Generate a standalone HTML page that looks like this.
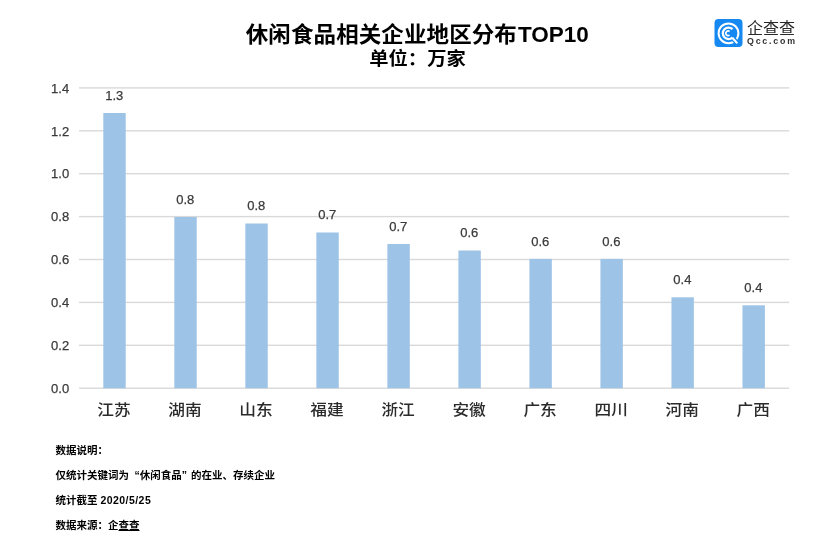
<!DOCTYPE html>
<html lang="zh-CN">
<head>
<meta charset="utf-8">
<title>休闲食品相关企业地区分布TOP10</title>
<style>
html,body{margin:0;padding:0;background:#fff;}
body{width:840px;height:556px;position:relative;overflow:hidden;font-family:"Liberation Sans","Noto Sans CJK SC",sans-serif;}
.title{position:absolute;left:0;width:834.6px;top:18.9px;text-align:center;font-weight:bold;font-size:22.5px;line-height:32px;color:#000;white-space:nowrap;}
.title .cj{display:inline-block;transform:scaleY(0.945);transform-origin:50% 50%;letter-spacing:0.1px;}
.title .en{display:inline-block;padding-left:1px;}
.sub{position:absolute;left:0;width:835px;top:44.6px;text-align:center;font-weight:bold;font-size:19.3px;line-height:28px;color:#000;white-space:nowrap;transform:scaleY(0.93);transform-origin:50% 50%;}
.note{position:absolute;left:55.5px;font-size:10.5px;line-height:14px;color:#000;white-space:nowrap;font-weight:bold;}
.note u{text-decoration:underline;text-decoration-thickness:0.9px;text-underline-offset:0.6px;}
.note .ql{padding-left:5.4px;}
.note .qr{padding-right:4px;}
.note .d{letter-spacing:0.45px;}
</style>
</head>
<body>
<svg width="840" height="556" viewBox="0 0 840 556" style="position:absolute;left:0;top:0">
<rect x="79.0" y="387.50" width="710.2" height="1.4" fill="#d9d9d9"/>
<rect x="79.0" y="344.60" width="710.2" height="1.4" fill="#d9d9d9"/>
<rect x="79.0" y="301.70" width="710.2" height="1.4" fill="#d9d9d9"/>
<rect x="79.0" y="258.80" width="710.2" height="1.4" fill="#d9d9d9"/>
<rect x="79.0" y="215.90" width="710.2" height="1.4" fill="#d9d9d9"/>
<rect x="79.0" y="173.00" width="710.2" height="1.4" fill="#d9d9d9"/>
<rect x="79.0" y="130.10" width="710.2" height="1.4" fill="#d9d9d9"/>
<rect x="79.0" y="87.20" width="710.2" height="1.4" fill="#d9d9d9"/>
<rect x="103.30" y="113" width="22.4" height="275.20" fill="#9dc3e6"/>
<rect x="174.32" y="217" width="22.4" height="171.20" fill="#9dc3e6"/>
<rect x="245.34" y="223.5" width="22.4" height="164.70" fill="#9dc3e6"/>
<rect x="316.36" y="232.5" width="22.4" height="155.70" fill="#9dc3e6"/>
<rect x="387.38" y="244" width="22.4" height="144.20" fill="#9dc3e6"/>
<rect x="458.40" y="250.5" width="22.4" height="137.70" fill="#9dc3e6"/>
<rect x="529.42" y="258.9" width="22.4" height="129.30" fill="#9dc3e6"/>
<rect x="600.44" y="258.9" width="22.4" height="129.30" fill="#9dc3e6"/>
<rect x="671.46" y="297.3" width="22.4" height="90.90" fill="#9dc3e6"/>
<rect x="742.48" y="305.3" width="22.4" height="82.90" fill="#9dc3e6"/>
<g font-family="'Liberation Sans', 'Noto Sans CJK SC', sans-serif" font-size="13" fill="#3a3a3a" stroke="#3a3a3a" stroke-width="0.25">
<text x="69.2" y="392.90" text-anchor="end">0.0</text>
<text x="69.2" y="350.00" text-anchor="end">0.2</text>
<text x="69.2" y="307.10" text-anchor="end">0.4</text>
<text x="69.2" y="264.20" text-anchor="end">0.6</text>
<text x="69.2" y="221.30" text-anchor="end">0.8</text>
<text x="69.2" y="178.40" text-anchor="end">1.0</text>
<text x="69.2" y="135.50" text-anchor="end">1.2</text>
<text x="69.2" y="92.60" text-anchor="end">1.4</text>
<text x="114.20" y="99.70" text-anchor="middle">1.3</text>
<text x="185.22" y="203.70" text-anchor="middle">0.8</text>
<text x="256.24" y="210.20" text-anchor="middle">0.8</text>
<text x="327.26" y="219.20" text-anchor="middle">0.7</text>
<text x="398.28" y="230.70" text-anchor="middle">0.7</text>
<text x="469.30" y="237.20" text-anchor="middle">0.6</text>
<text x="540.32" y="245.60" text-anchor="middle">0.6</text>
<text x="611.34" y="245.60" text-anchor="middle">0.6</text>
<text x="682.36" y="284.00" text-anchor="middle">0.4</text>
<text x="753.38" y="292.00" text-anchor="middle">0.4</text>
</g>
<g font-family="'Liberation Sans', 'Noto Sans CJK SC', sans-serif" font-size="16.7" font-weight="500" fill="#2b2b2b" text-anchor="middle">
<text transform="translate(114.00 415) scale(1 0.9)">江苏</text>
<text transform="translate(185.02 415) scale(1 0.9)">湖南</text>
<text transform="translate(256.04 415) scale(1 0.9)">山东</text>
<text transform="translate(327.06 415) scale(1 0.9)">福建</text>
<text transform="translate(398.08 415) scale(1 0.9)">浙江</text>
<text transform="translate(469.10 415) scale(1 0.9)">安徽</text>
<text transform="translate(540.12 415) scale(1 0.9)">广东</text>
<text transform="translate(611.14 415) scale(1 0.9)">四川</text>
<text transform="translate(682.16 415) scale(1 0.9)">河南</text>
<text transform="translate(753.18 415) scale(1 0.9)">广西</text>
</g>
<g>
<rect x="714.5" y="19" width="28" height="28" rx="4" fill="#1688f2"/>
<circle cx="728.5" cy="33.3" r="9.9" fill="none" stroke="#fff" stroke-width="2"/>
<path d="M732.2 37.6 L738.6 44.8" stroke="#1688f2" stroke-width="4.6" fill="none"/>
<path d="M732.5 29.1 A5.75 5.75 0 1 0 732.5 37.5" fill="none" stroke="#fff" stroke-width="2.3"/>
<path d="M732.3 37.7 L737.3 43.4" stroke="#fff" stroke-width="2.1" fill="none"/>
<path d="M729.6 31.5 A2.3 2.3 0 1 0 729.6 35.1" fill="none" stroke="#fff" stroke-width="1.6"/>
</g>
<text x="747" y="34" font-family="'Liberation Sans', 'Noto Sans CJK SC', sans-serif" font-size="16" font-weight="400" fill="#2a2a2a" textLength="48" lengthAdjust="spacingAndGlyphs">企查查</text>
<text x="747" y="44.3" font-family="'Liberation Sans', 'Noto Sans CJK SC', sans-serif" font-size="8.8" font-weight="bold" fill="#333" textLength="48" lengthAdjust="spacing">Qcc.com</text>
</svg>
<div class="title"><span class="cj">休闲食品相关企业地区分布</span><span class="en">TOP10</span></div>
<div class="sub">单位：万家</div>
<div class="note" style="top:443.3px">数据说明：</div>
<div class="note" style="top:468.3px">仅统计关键词为<span class="ql">“</span>休闲食品<span class="qr">”</span>的在业、存续企业</div>
<div class="note" style="top:493.3px">统计截至 <span class="d">2020/5/25</span></div>
<div class="note" style="top:518.3px">数据来源：企<u>查查</u></div>
</body>
</html>
